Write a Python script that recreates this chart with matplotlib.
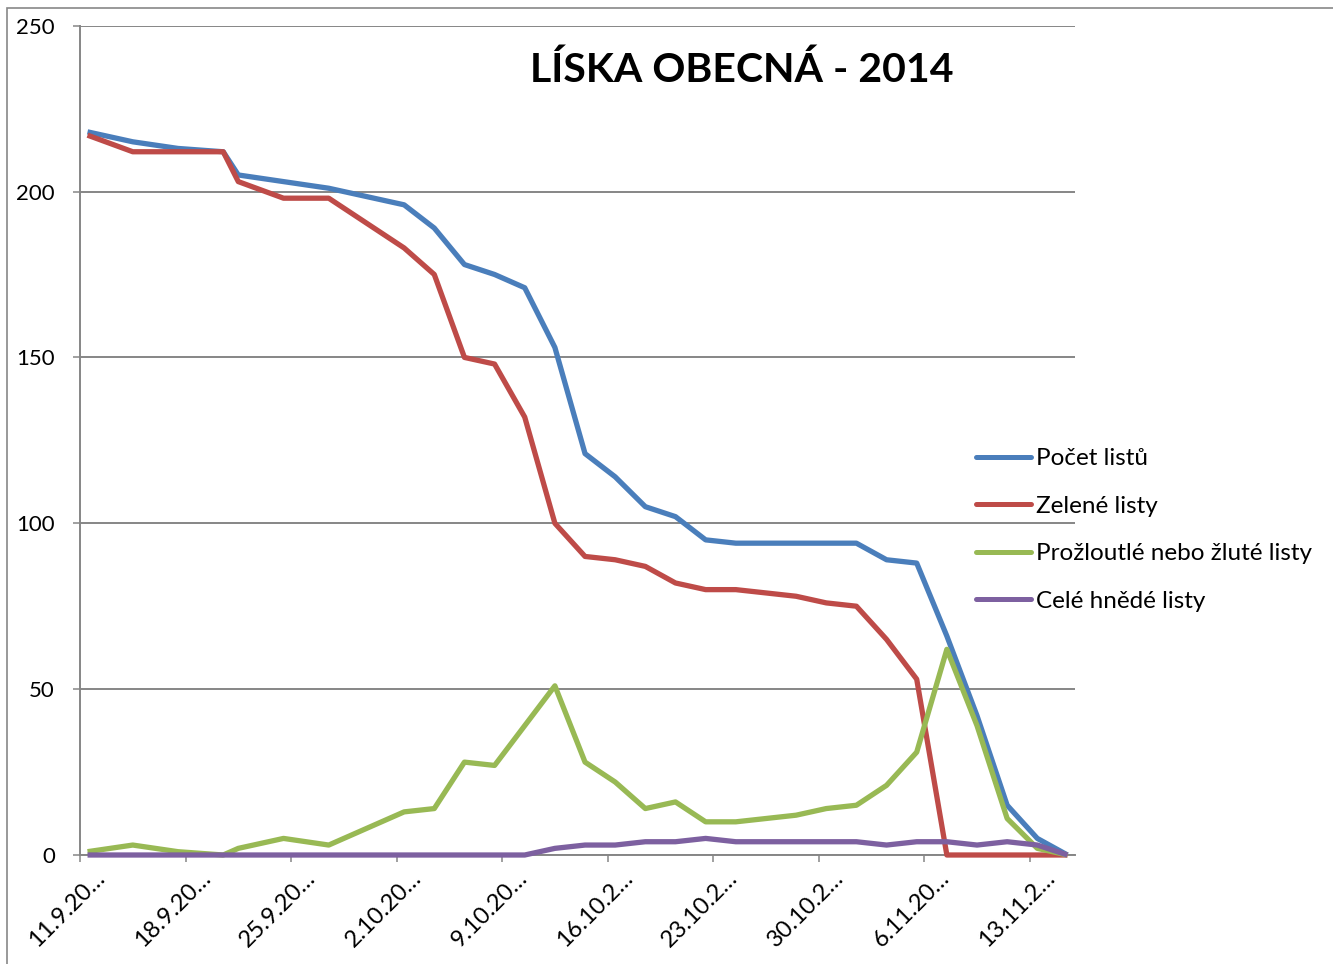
import matplotlib
matplotlib.use("Agg")
import matplotlib.pyplot as plt
import matplotlib.transforms as mtransforms
import numpy as np
import pandas as pd
from matplotlib.patches import Rectangle

plt.rcParams['font.family'] = ['Lato', 'DejaVu Sans']

title = "LÍSKA OBECNÁ - 2014"
dates = ["2014-09-11", "2014-09-14", "2014-09-17", "2014-09-20", "2014-09-21",
         "2014-09-24", "2014-09-27", "2014-10-02", "2014-10-04", "2014-10-06",
         "2014-10-08", "2014-10-10", "2014-10-12", "2014-10-14", "2014-10-16",
         "2014-10-18", "2014-10-20", "2014-10-22", "2014-10-24", "2014-10-26",
         "2014-10-28", "2014-10-30", "2014-11-01", "2014-11-03", "2014-11-05",
         "2014-11-07", "2014-11-09", "2014-11-11", "2014-11-13", "2014-11-15"]
pocet = [218, 215, 213, 212, 205, 203, 201, 196, 189, 178, 175, 171, 153, 121, 114,
         105, 102, 95, 94, 94, 94, 94, 94, 89, 88, 66, 42, 15, 5, 0]
zelene = [217, 212, 212, 212, 203, 198, 198, 183, 175, 150, 148, 132, 100, 90, 89,
          87, 82, 80, 80, 79, 78, 76, 75, 65, 53, 0, 0, 0, 0, 0]
zlute = [1, 3, 1, 0, 2, 5, 3, 13, 14, 28, 27, 39, 51, 28, 22,
         14, 16, 10, 10, 11, 12, 14, 15, 21, 31, 62, 39, 11, 2, 0]
hnede = [0, 0, 0, 0, 0, 0, 0, 0, 0, 0, 0, 0, 2, 3, 3,
         4, 4, 5, 4, 4, 4, 4, 4, 3, 4, 4, 3, 4, 3, 0]
series_names = ["Počet listů", "Zelené listy", "Prožloutlé nebo žluté listy", "Celé hnědé listy"]
colors = ["#4A7EBB", "#BE4B48", "#98B954", "#7D60A0"]
tick_labels = ["11.9.20…", "18.9.20…", "25.9.20…", "2.10.20…", "9.10.20…",
               "16.10.2…", "23.10.2…", "30.10.2…", "6.11.20…", "13.11.2…"]
y_ticks = [0, 50, 100, 150, 200, 250]

W, H = 1333, 964
fig = plt.figure(figsize=(W / 100, H / 100), dpi=100)
ax = fig.add_axes([80 / W, 1 - 855 / H, (1075 - 80) / W, (855 - 25.7) / H])

start = pd.Timestamp(dates[0])
x = np.array((pd.to_datetime(dates) - start).days, dtype=float)

for vals, name, c in zip([pocet, zelene, zlute, hnede], series_names, colors):
    ax.plot(x, vals, color=c, lw=3.8, label=name, solid_joinstyle='round',
            solid_capstyle='butt', clip_on=False, zorder=3)

ax.set_xlim(-0.5, 65.5)
ax.set_ylim(0, 250)
ax.set_yticks(y_ticks)
ax.set_xticks(np.arange(len(tick_labels)) * 7 - 0.5)
ax.set_xticklabels(tick_labels, rotation=45, ha='right', va='top',
                   rotation_mode='anchor', fontsize=17)
ax.tick_params(axis='y', labelsize=16, length=5, width=1.1, color='#868686', pad=13)
ax.tick_params(axis='x', length=5, width=1.1, color='#868686', pad=4)
off = mtransforms.ScaledTranslation(14 / 100, 0, fig.dpi_scale_trans)
for lab in ax.get_xticklabels():
    lab.set_transform(lab.get_transform() + off)
ax.grid(axis='y', color='#868686', lw=1.4)
ax.set_axisbelow(True)
for s in ['top', 'right']:
    ax.spines[s].set_visible(False)
for s in ['left', 'bottom']:
    ax.spines[s].set_color('#868686')
    ax.spines[s].set_linewidth(1.4)

fig.text(742 / W, 1 - 70 / H, title, ha='center', va='center',
         fontsize=29.5, fontweight='bold')

leg = fig.legend(loc='center left', bbox_to_anchor=(976 / W, 1 - 530 / H),
                 frameon=False, fontsize=17.5, handlelength=2.26, handletextpad=0.2,
                 labelspacing=1.09, borderpad=0, borderaxespad=0)
for ln in leg.get_lines():
    ln.set_solid_capstyle('round')
    ln.set_linewidth(3.6)

fig.add_artist(Rectangle((7 / W, -0.05), 1.1, 1 - 8 / H + 0.05, transform=fig.transFigure,
                         fill=False, edgecolor='#878787', lw=1.2))

fig.savefig("out.png", dpi=100)
